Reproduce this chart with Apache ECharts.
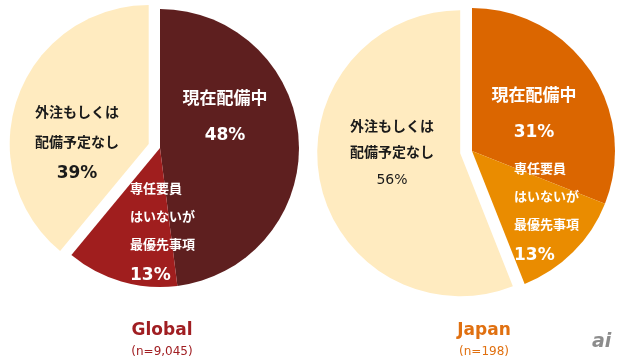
<!DOCTYPE html>
<html>
<head>
<meta charset="utf-8">
<script src="https://cdn.jsdelivr.net/npm/echarts@6/dist/echarts.min.js"></script>
<style>
html,body{margin:0;padding:0;background:#fff;}
#chart{width:620px;height:363px;}
</style>
</head>
<body>
<div id="chart"></div>
<script>
// ---- data ----
const categories = ['現在配備中', '専任要員はいないが最優先事項', '外注もしくは配備予定なし'];
const globalValues = [48, 13, 39];
const japanValues = [31, 13, 56];
const groupTitles = ['Global', 'Japan'];
const groupSamples = ['(n=9,045)', '(n=198)'];
// label line breaks for each category
const labelLines = [['現在配備中'], ['専任要員', 'はいないが', '最優先事項'], ['外注もしくは', '配備予定なし']];
const explodedIndex = 2;

// ---- styles ----
const FONT = '"DejaVu Sans", "Noto Sans CJK JP", sans-serif';
const globalColors = ['#5E1F1F', '#A01E1E', '#FFEBC0'];
const japanColors = ['#DB6600', '#EA8C00', '#FFEBC0'];
const titleColors = ['#A01E22', '#E07010'];
const explodeDist = 12;

// label anchor positions [x, y, align]
const labelPos = [
  [[225, 82, 'center'], [130, 176, 'left'], [77, 98, 'center']],
  [[534, 79, 'center'], [514, 156, 'left'], [392, 114, 'center']]
];

function richFor(idx, seriesIdx) {
  const white = '#fff', dark = '#1a1a1a';
  if (idx === 0) {
    return {
      t: {fontFamily: FONT, fontSize: 17, fontWeight: 'bold', color: white, lineHeight: 36},
      p: {fontFamily: FONT, fontSize: 17, fontWeight: 'bold', color: white, lineHeight: 36}
    };
  } else if (idx === 1) {
    return {
      t: {fontFamily: FONT, fontSize: 13, fontWeight: 'bold', color: white, lineHeight: 28},
      p: {fontFamily: FONT, fontSize: 17, fontWeight: 'bold', color: white, lineHeight: 32}
    };
  } else {
    if (seriesIdx === 0) {
      return {
        t: {fontFamily: FONT, fontSize: 14, fontWeight: 'bold', color: dark, lineHeight: 30},
        p: {fontFamily: FONT, fontSize: 17, fontWeight: 'bold', color: dark, lineHeight: 32}
      };
    }
    return {
      t: {fontFamily: FONT, fontSize: 14, fontWeight: 'bold', color: dark, lineHeight: 26},
      p: {fontFamily: FONT, fontSize: 14, fontWeight: 'normal', color: dark, lineHeight: 28}
    };
  }
}

// part: 'main' draws all slices except the exploded one; 'exploded' draws only that one
function buildData(values, colors, seriesIdx, part) {
  return values.map((v, i) => {
    const visible = part === 'main' ? i !== explodedIndex : i === explodedIndex;
    return {
      name: categories[i],
      value: v,
      itemStyle: visible ? {color: colors[i]} : {color: 'rgba(0,0,0,0)'},
      label: visible ? {
        show: true,
        position: 'inside',
        formatter: () => labelLines[i].map(l => '{t|' + l + '}').join('\n') + '\n{p|' + v + '%}',
        rich: richFor(i, seriesIdx)
      } : {show: false}
    };
  });
}

function explodeOffset(values) {
  const total = values.reduce((a, b) => a + b, 0);
  let before = 0;
  for (let i = 0; i < explodedIndex; i++) before += values[i];
  const midFrac = (before + values[explodedIndex] / 2) / total;
  const ang = midFrac * 2 * Math.PI; // clockwise from 12 o'clock
  return [explodeDist * Math.sin(ang), -explodeDist * Math.cos(ang)];
}

function makeSeries(values, colors, seriesIdx, center, radius, part) {
  let c = center;
  if (part === 'exploded') {
    const off = explodeOffset(values);
    c = [center[0] + off[0], center[1] + off[1]];
  }
  return {
    type: 'pie',
    center: c,
    radius: radius,
    startAngle: 90,
    clockwise: true,
    animation: false,
    silent: true,
    avoidLabelOverlap: false,
    labelLine: {show: false},
    emphasis: {disabled: true},
    data: buildData(values, colors, seriesIdx, part),
    labelLayout: function (params) {
      const p = labelPos[seriesIdx][params.dataIndex];
      return {x: p[0], y: p[1], align: p[2], verticalAlign: 'top'};
    }
  };
}

const chart = echarts.init(document.getElementById('chart'), null, {renderer: 'canvas'});
chart.setOption({
  backgroundColor: '#fff',
  animation: false,
  title: [0, 1].map(i => ({
    text: groupTitles[i],
    subtext: groupSamples[i],
    left: i === 0 ? 162 : 484,
    top: 321,
    textAlign: 'center',
    itemGap: 4,
    padding: 0,
    textStyle: {fontFamily: FONT, fontSize: 17, fontWeight: 'bold', color: titleColors[i], lineHeight: 20},
    subtextStyle: {fontFamily: FONT, fontSize: 12, color: titleColors[i], lineHeight: 14}
  })),
  graphic: [{
    type: 'text',
    left: 592,
    top: 333,
    style: {text: 'ai', fontFamily: FONT, fontSize: 19, fontWeight: 'bold', fontStyle: 'italic', fill: '#8c8c8c'}
  }],
  series: [
    makeSeries(globalValues, globalColors, 0, [160, 148], 139, 'main'),
    makeSeries(globalValues, globalColors, 0, [160, 148], 139, 'exploded'),
    makeSeries(japanValues, japanColors, 1, [472, 151], 143, 'main'),
    makeSeries(japanValues, japanColors, 1, [472, 151], 143, 'exploded')
  ]
});
</script>
</body>
</html>
